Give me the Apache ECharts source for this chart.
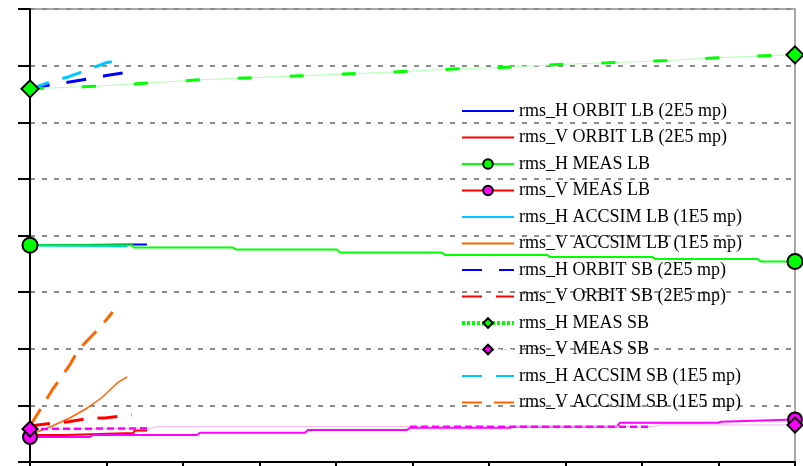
<!DOCTYPE html>
<html><head><meta charset="utf-8">
<script src="https://cdn.jsdelivr.net/npm/echarts@6/dist/echarts.min.js"></script>
<style>html,body{margin:0;padding:0;background:#fff}#c{width:803px;height:466px}</style>
</head><body><div id="c"></div>
<script>
// Legend names
const names = [
  'rms_H ORBIT LB (2E5 mp)', 'rms_V ORBIT LB (2E5 mp)', 'rms_H MEAS LB', 'rms_V MEAS LB',
  'rms_H ACCSIM LB (1E5 mp)', 'rms_V ACCSIM LB (1E5 mp)', 'rms_H ORBIT SB (2E5 mp)', 'rms_V ORBIT SB (2E5 mp)',
  'rms_H MEAS SB', 'rms_V MEAS SB', 'rms_H ACCSIM SB (1E5 mp)', 'rms_V ACCSIM SB (1E5 mp)'
];

// Series values [x, y]
const hOrbitLB = [[0,3.834],[0.65,3.834],[1.35,3.839],[1.53,3.839]];
const vOrbitLB = [[0,0.477],[0.46,0.477],[0.48,0.512],[1.35,0.512],[1.37,0.557],[1.53,0.557]];
const hMeasLB = [[0,3.829],[1.333,3.829],[1.359,3.786],[2.654,3.786],[2.693,3.751],[4.013,3.751],[4.052,3.698],[5.386,3.698],[5.425,3.657],[6.758,3.657],[6.797,3.622],[8.131,3.622],[8.170,3.587],[9.503,3.587],[9.556,3.542],[10,3.542]];
const vMeasLB = [[0,0.442],[0.784,0.442],[0.824,0.477],[2.183,0.477],[2.222,0.518],[3.595,0.518],[3.634,0.565],[4.928,0.565],[4.967,0.606],[6.275,0.606],[6.314,0.624],[7.673,0.624],[7.712,0.694],[8.993,0.694],[9.033,0.712],[10,0.75]];
const hAccsimLB = [[0,3.825],[0.92,3.816],[1.27,3.804]];
const vAccsimLB = [[0,0.495],[0.09,0.530],[0.26,0.618],[0.52,0.777],[0.75,0.954],[0.95,1.148],[1.14,1.396],[1.27,1.502]];
const hOrbitSB = [[0,6.59],[0.26,6.66],[0.46,6.70],[0.78,6.77],[0.98,6.82],[1.31,6.89]];
const vOrbitSB = [[0,0.636],[0.30,0.689],[0.50,0.71],[0.81,0.777],[0.98,0.777],[1.33,0.830]];
const hMeasSB = [[0,6.59],[0.92,6.64],[2.22,6.75],[3.53,6.82],[4.09,6.85],[4.80,6.89],[5.53,6.94],[6.24,6.97],[6.90,7.02],[7.54,7.05],[8.33,7.09],[8.99,7.14],[9.71,7.18],[10,7.19]];
const vMeasSB = [[0,0.583],[1.569,0.595],[1.673,0.624],[8.105,0.624],[8.261,0.654],[10,0.654]];
const vMeasSBThick = [[0,0.583],[1.569,0.595],[1.6,null],[4.967,0.624],[8.105,0.624]];
const hAccsimSB = [[0,6.59],[0.30,6.73],[0.50,6.80],[0.82,6.96],[0.99,7.05],[1.07,7.07]];
const vAccsimSB = [[0,0.636],[0.17,1.007],[0.29,1.272],[0.52,1.714],[0.63,1.979],[0.92,2.385],[1.08,2.650]];

function ends(arr){ return arr.map((p,i)=> (i===0||i===arr.length-1) ? {value:p} : {value:p, symbol:'none'}); }
const font = 'Liberation Serif';

function plain(name, data, color, width, type, z){
  return {name, type:'line', data, symbol:'none', z: z||2, lineStyle:{color, width, type: type||'solid'}, itemStyle:{color}};
}
function marked(name, data, color, lineColor, width, type, sym, size){
  return {name, type:'line', data: ends(data), symbol:sym, symbolSize:size, z:3,
    lineStyle:{color:lineColor, width, type: type||'solid'},
    itemStyle:{color, borderColor:'#000', borderWidth:2}};
}

const series = [
  plain(names[0], hOrbitLB, '#0000ff', 2),
  plain(names[1], vOrbitLB, '#ff0000', 2),
  marked(names[2], hMeasLB, '#00ff00', '#00ff00', 2, 'solid', 'circle', 15),
  marked(names[3], vMeasLB, '#ff00ff', '#ff00ff', 2, 'solid', 'circle', 14),
  plain(names[4], hAccsimLB, '#00c8ff', 2),
  plain(names[5], vAccsimLB, '#ff6600', 1.5),
  plain(names[6], hOrbitSB, '#0000ff', 3, [20,17]),
  plain(names[7], vOrbitSB, '#ff0000', 3, [20,14]),
  plain('hMeasSB_base', hMeasSB, '#b4ffb4', 1, 'solid', 3),
  marked(names[8], hMeasSB, '#00ff00', '#00ff00', 3, [14,38], 'diamond', 17),
  marked(names[9], vMeasSB, '#ff00ff', '#f6b4f6', 1, 'solid', 'diamond', 15),
  plain('vMeasSB_thick', vMeasSBThick, '#ff00ff', 2.5, [7,4], 3),
  plain(names[10], hAccsimSB, '#00c8ff', 3, [20,14]),
  plain(names[11], vAccsimSB, '#ff6600', 3, [20,12])
];

const hide = {opacity:0};
const legendData = [
  {name:names[0], itemStyle:hide},
  {name:names[1], itemStyle:hide},
  {name:names[2]},
  {name:names[3], lineStyle:{color:'#ff0000'}},
  {name:names[4], itemStyle:hide},
  {name:names[5], itemStyle:hide},
  {name:names[6], itemStyle:hide},
  {name:names[7], itemStyle:hide},
  {name:names[8], lineStyle:{type:[3,2], width:4}},
  {name:names[9], lineStyle:{type:[3,3], width:1}},
  {name:names[10], itemStyle:hide},
  {name:names[11], itemStyle:hide}
];

const chart = echarts.init(document.getElementById('c'), null, {renderer:'canvas'});
chart.setOption({
  animation:false,
  backgroundColor:'#fff',
  grid:{left:30, right:8, top:9, bottom:4, show:true, borderColor:'#8c8c8c', borderWidth:1.5, containLabel:false},
  legend:{orient:'vertical', left:460, top:102, padding:0, itemWidth:52, itemHeight:12, itemGap:8.5,
    textStyle:{fontFamily:font, fontSize:18, color:'#000', lineHeight:16}, data:legendData},
  xAxis:{type:'value', min:0, max:10, interval:1,
    axisLine:{show:true, onZero:false, lineStyle:{color:'#000', width:2}},
    axisTick:{show:true, length:8, lineStyle:{color:'#000', width:2}},
    axisLabel:{show:false}, splitLine:{show:false}},
  yAxis:{type:'value', min:0, max:8, interval:1,
    axisLine:{show:true, onZero:false, lineStyle:{color:'#000', width:2}},
    axisTick:{show:true, length:12, lineStyle:{color:'#000', width:2}},
    axisLabel:{show:false},
    splitLine:{show:true, lineStyle:{color:'#8c8c8c', width:2, type:[5,7]}}},
  series
});
</script></body></html>
